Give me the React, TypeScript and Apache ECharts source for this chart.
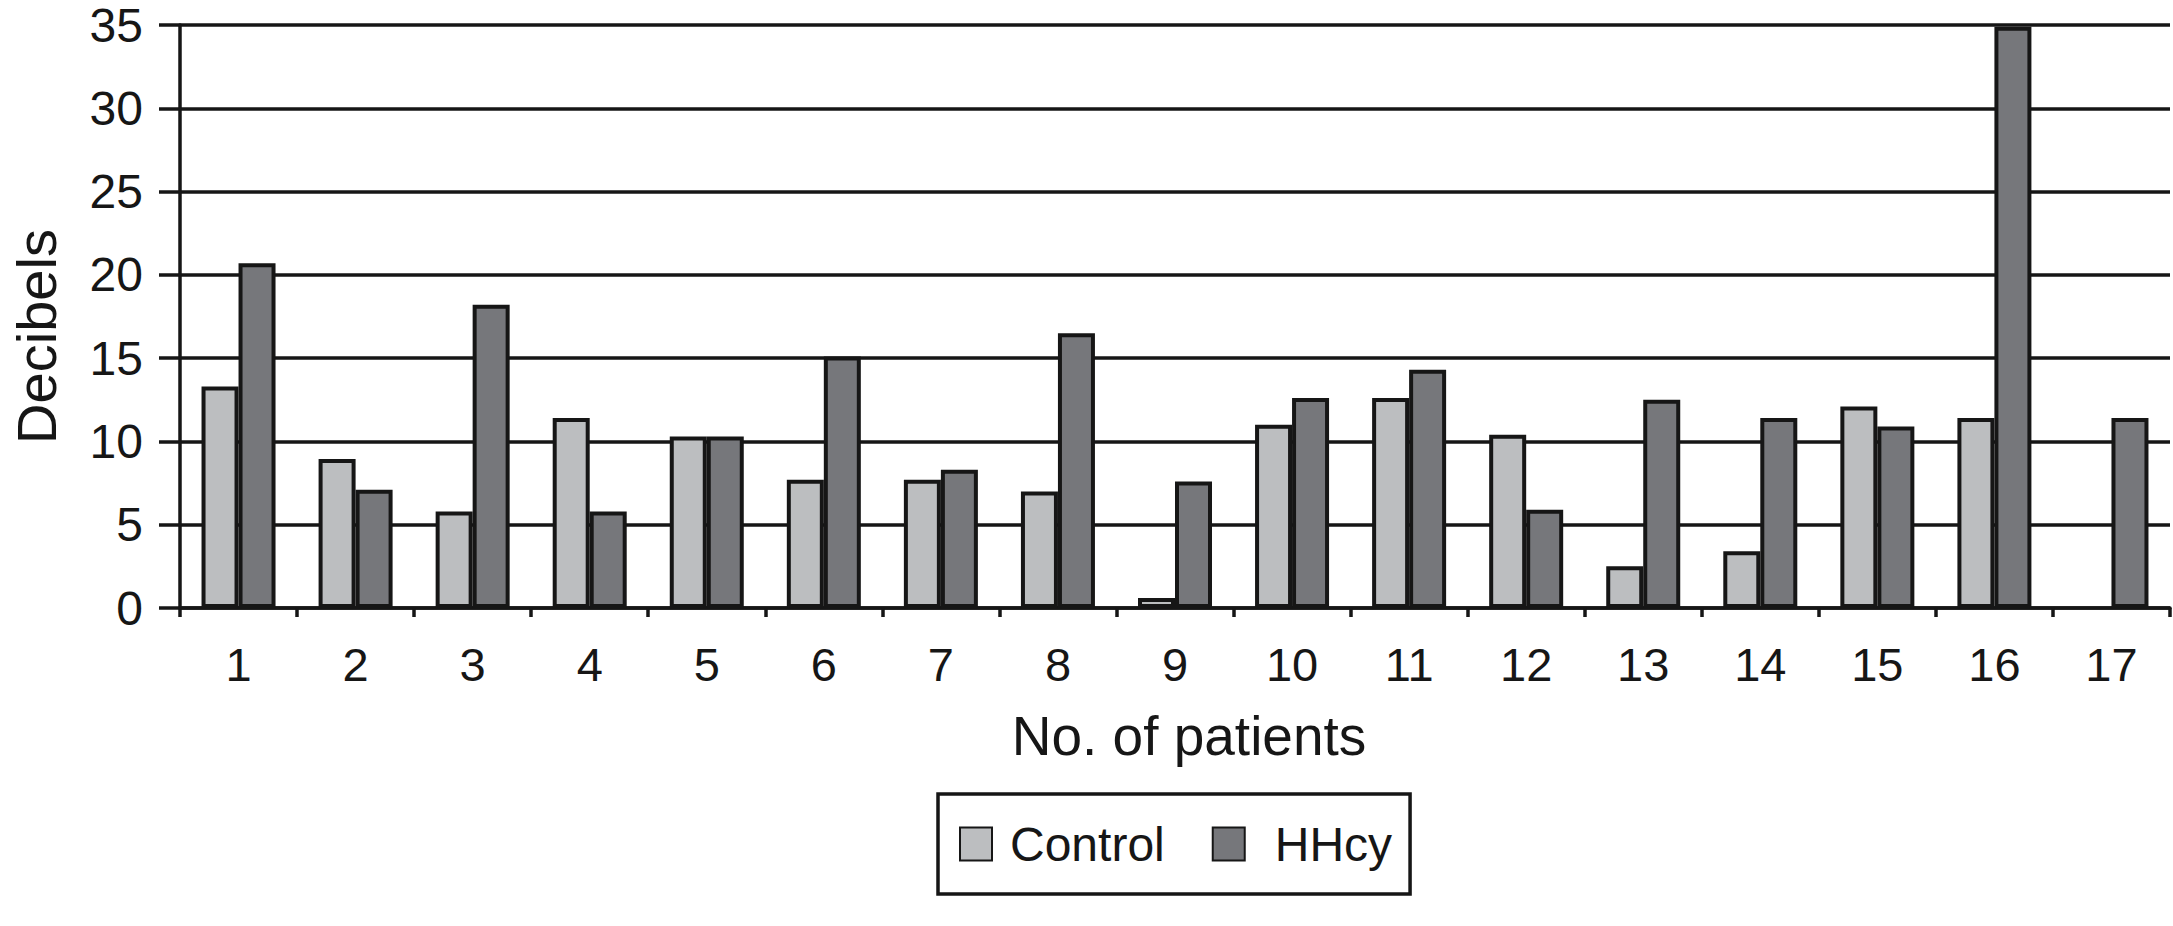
import React, { useEffect, useRef } from "react";
import * as echarts from "echarts";

const categories = ["1", "2", "3", "4", "5", "6", "7", "8", "9", "10", "11", "12", "13", "14", "15", "16", "17"];
const controlValues = [13.3, 8.95, 5.8, 11.4, 10.3, 7.7, 7.7, 7.0, 0.6, 11.0, 12.6, 10.4, 2.5, 3.4, 12.1, 11.4, null];
const hhcyValues = [20.7, 7.1, 18.2, 5.8, 10.3, 15.1, 8.3, 16.5, 7.6, 12.6, 14.3, 5.9, 12.5, 11.4, 10.9, 34.9, 11.4];
const seriesNames = ["Control", "HHcy"];
const yMin = 0;
const yMax = 35;
const yInterval = 5;

const FONT = "'Liberation Sans', Arial, Helvetica, sans-serif";
const INK = "#161616";

export default function App() {
  const ref = useRef<HTMLDivElement>(null);

  useEffect(() => {
    if (!ref.current) return;
    const chart = echarts.init(ref.current, null, { renderer: "svg" });
    const barStyle = (color: string) => ({
      color,
      borderColor: INK,
      borderWidth: 4,
    });
    chart.setOption({
      animation: false,
      backgroundColor: "#ffffff",
      grid: { left: 176, right: 3, top: 25, bottom: 318, containLabel: false },
      legend: {
        data: [
          { name: seriesNames[0], textStyle: { padding: [0, 0, 0, 13] } },
          { name: seriesNames[1], textStyle: { padding: [0, 0, 0, 25] } },
        ],
        left: 938,
        top: 794,
        orient: "horizontal",
        icon: "rect",
        itemWidth: 32,
        itemHeight: 33,
        itemGap: 47,
        borderColor: INK,
        borderWidth: 3.5,
        padding: [26, 18, 26, 21],
        textStyle: {
          fontFamily: FONT,
          fontSize: 48,
          color: INK,
        },
      },
      xAxis: {
        type: "category",
        data: categories,
        boundaryGap: true,
        name: "No. of patients",
        nameLocation: "middle",
        nameGap: 100,
        nameTextStyle: {
          fontFamily: FONT,
          fontSize: 55,
          color: INK,
          padding: [0, 0, 0, 28],
        },
        axisLine: { show: true, lineStyle: { color: INK, width: 3.5 } },
        axisTick: { show: true, length: 9, inside: false, lineStyle: { color: INK, width: 3.5 } },
        axisLabel: { fontFamily: FONT, fontSize: 47, color: INK, margin: 33 },
        splitLine: { show: false },
      },
      yAxis: {
        type: "value",
        min: yMin,
        max: yMax,
        interval: yInterval,
        name: "Decibels",
        nameLocation: "middle",
        nameGap: 116,
        nameTextStyle: {
          fontFamily: FONT,
          fontSize: 56,
          color: INK,
          padding: [0, 40, 0, 0],
        },
        axisLine: { show: true, lineStyle: { color: INK, width: 3.5 } },
        axisTick: { show: true, length: 21, inside: false, lineStyle: { color: INK, width: 3.5 } },
        axisLabel: { fontFamily: FONT, fontSize: 48, color: INK, margin: 37 },
        splitLine: { show: true, lineStyle: { color: INK, width: 3.5 } },
      },
      series: [
        {
          name: seriesNames[0],
          type: "bar",
          data: controlValues,
          barWidth: 37,
          barGap: "0%",
          itemStyle: barStyle("#bcbec0"),
        },
        {
          name: seriesNames[1],
          type: "bar",
          data: hhcyValues,
          barWidth: 37,
          barGap: "0%",
          itemStyle: barStyle("#76777b"),
        },
      ],
    });
    return () => chart.dispose();
  }, []);

  return (
    <div
      ref={ref}
      style={{ position: "fixed", left: 0, top: 0, width: 2173, height: 926, background: "#ffffff" }}
    />
  );
}
